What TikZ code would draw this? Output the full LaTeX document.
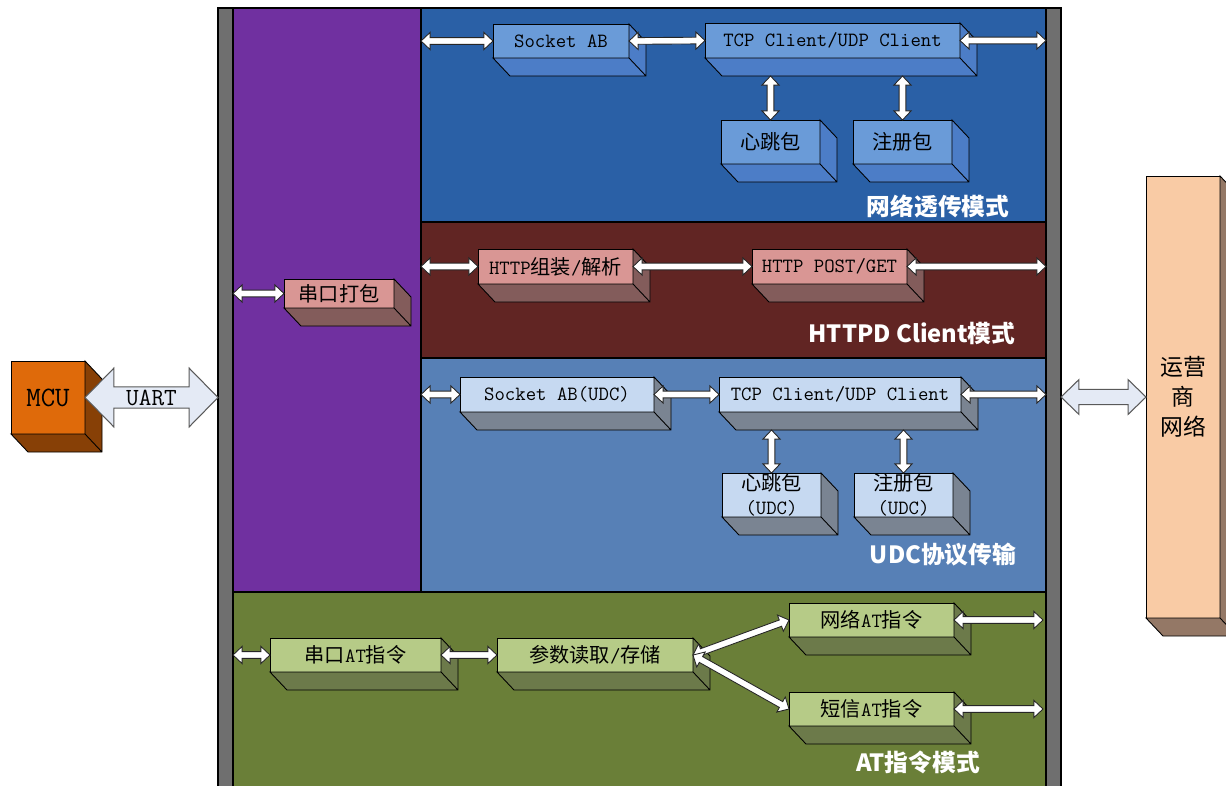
\documentclass[tikz,border=0pt]{standalone}
\usepackage{fontspec}
\usepackage{tikz}
\usetikzlibrary{calc}
\newfontfamily\cjk{Noto Sans CJK SC}

\definecolor{bargray}{HTML}{6F6F6F}
\definecolor{colpurple}{HTML}{7030A0}
\definecolor{netblue}{HTML}{2A60A6}
\definecolor{httpred}{HTML}{612523}
\definecolor{udcblue}{HTML}{5780B6}
\definecolor{atgreen}{HTML}{6A7F38}
\definecolor{tbfront}{HTML}{6A9BD8}
\definecolor{tbside}{HTML}{4C7DC7}
\definecolor{rfront}{HTML}{D99694}
\definecolor{rside}{HTML}{835C5B}
\definecolor{ufront}{HTML}{C6D9F1}
\definecolor{uside}{HTML}{7A8492}
\definecolor{gfront}{HTML}{B6CB87}
\definecolor{gside}{HTML}{6C7A4A}
\definecolor{mcufront}{HTML}{DF6A0A}
\definecolor{mcuside}{HTML}{874006}
\definecolor{opfront}{HTML}{F9CBA5}
\definecolor{opside}{HTML}{947866}
\definecolor{uartfill}{HTML}{E4EAF5}

\tikzset{
 region/.style={draw=black, line width=0.6pt, inner sep=0pt, outer sep=0pt, anchor=north west},
 boxwh/.style 2 args={minimum width=#1*0.02cm, minimum height=#2*0.02cm},
 box/.style={draw=black, line width=0.5pt, inner sep=0pt, outer sep=0pt, align=center,
   font=\ttfamily\fontsize{11.5}{13.6}\selectfont},
 tbox/.style={box, fill=tbfront},
 rbox/.style={box, fill=rfront},
 ubox/.style={box, fill=ufront},
 gbox/.style={box, fill=gfront},
 dblarrow/.style n args={3}{to path={
   (\tikztostart)
   -- ($($(\tikztostart)!#3!(\tikztotarget)$)!#1!90:(\tikztotarget)$)
   -- ($($(\tikztostart)!#3!(\tikztotarget)$)!#2!90:(\tikztotarget)$)
   -- ($($(\tikztotarget)!#3!(\tikztostart)$)!#2!-90:(\tikztostart)$)
   -- ($($(\tikztotarget)!#3!(\tikztostart)$)!#1!-90:(\tikztostart)$)
   -- (\tikztotarget)
   -- ($($(\tikztotarget)!#3!(\tikztostart)$)!#1!90:(\tikztostart)$)
   -- ($($(\tikztotarget)!#3!(\tikztostart)$)!#2!90:(\tikztostart)$)
   -- ($($(\tikztostart)!#3!(\tikztotarget)$)!#2!-90:(\tikztotarget)$)
   -- ($($(\tikztostart)!#3!(\tikztotarget)$)!#1!-90:(\tikztotarget)$)
   -- cycle}},
 wharrow/.style={draw=black!85, fill=white, line width=0.5pt, line join=miter, dblarrow={4.9pt}{1.9pt}{5.2pt}},
 bigarrow/.style={draw=black!65, fill=uartfill, line width=0.6pt, line join=miter},
 ttl/.style={text=white, font=\cjk\bfseries\fontsize{13.5}{16}\selectfont},
}

\begin{document}
\begin{tikzpicture}[x=0.02cm, y=-0.02cm]
  \useasboundingbox (0,0) rectangle (1226,785);

  % frame and modes
  \node[region, fill=bargray, boxwh={15}{790}] (lbar) at (218,8) {};
  \node[region, fill=bargray, boxwh={15}{790}] (rbar) at (1046,8) {};
  \node[region, fill=colpurple, boxwh={188}{584}] (col) at (233,8) {};
  \node[region, fill=netblue, boxwh={625}{214}] (net) at (421,8) {};
  \node[region, fill=httpred, boxwh={625}{136}] (http) at (421,222) {};
  \node[region, fill=udcblue, boxwh={625}{234}] (udc) at (421,358) {};
  \node[region, fill=atgreen, boxwh={813}{198}] (atm) at (233,592) {};

  % network transparent mode
  \node[tbox, boxwh={136}{34}] (sab) at (561,41) {Socket AB};
  \node[tbox, boxwh={255}{35}] (tcp) at (832.5,40.5) {TCP Client/UDP Client};
  \node[tbox, boxwh={99}{44}] (hb) at (770.5,142) {{\cjk 心跳包}};
  \node[tbox, boxwh={99}{44}] (reg) at (902.5,142) {{\cjk 注册包}};

  % httpd client
  \node[rbox, boxwh={110}{29}] (pack) at (339,293.5) {{\cjk 串口打包}};
  \node[rbox, boxwh={155}{35}] (hasm) at (555.5,266.5) {HTTP{\cjk 组装}/{\cjk 解析}};
  \node[rbox, boxwh={155}{35}] (hpost) at (829.5,266.5) {HTTP POST/GET};

  % udc
  \node[ubox, boxwh={194}{35}] (usab) at (557,394.5) {Socket AB(UDC)};
  \node[ubox, boxwh={242}{35}] (utcp) at (840,394.5) {TCP Client/UDP Client};
  \node[ubox, boxwh={99}{44}] (uhb) at (771.5,495) {{\cjk 心跳包}\\(UDC)};
  \node[ubox, boxwh={99}{44}] (ureg) at (903.5,495) {{\cjk 注册包}\\(UDC)};

  % at commands
  \node[gbox, boxwh={171}{34}] (sat) at (355.5,655) {{\cjk 串口}AT{\cjk 指令}};
  \node[gbox, boxwh={196}{34}] (par) at (595,655) {{\cjk 参数读取}/{\cjk 存储}};
  \node[gbox, boxwh={165}{34}] (nat) at (871.5,620) {{\cjk 网络}AT{\cjk 指令}};
  \node[gbox, boxwh={165}{34}] (sms) at (871.5,709) {{\cjk 短信}AT{\cjk 指令}};

  % outside
  \node[box, fill=mcufront, boxwh={74}{73}, font=\ttfamily\fontsize{16}{18}\selectfont] (mcu) at (48,397.5) {MCU};
  \node[box, fill=opfront, boxwh={74}{442}, font=\cjk\fontsize{13}{17}\selectfont] (op) at (1183,397) {运营\\商\\网络};

  % depth of the boxes
  \foreach \n/\c in {sab/tbside, tcp/tbside, hb/tbside, reg/tbside,
                     pack/rside, hasm/rside, hpost/rside,
                     usab/uside, utcp/uside, uhb/uside, ureg/uside,
                     sat/gside, par/gside, nat/gside, sms/gside,
                     mcu/mcuside, op/opside} {
    \draw[line width=0.5pt, fill=\c] (\n.north east) -- ++(17,18) -- ($(\n.south east)+(17,18)$)
      -- ($(\n.south west)+(17,18)$) -- (\n.south west) -- (\n.south east) -- cycle
      (\n.south east) -- ++(17,18);
  }

  \coordinate (tcpb) at ($(tcp.south)+(0,18)$);
  \coordinate (utcpb) at ($(utcp.south)+(0,18)$);

  % arrows
  \draw[wharrow] (net.west |- sab.west) to (sab.west);
  \draw[wharrow] (sab.east) to (tcp.west);
  \draw[wharrow] (tcp.east) to (net.east |- tcp.east);
  \draw[wharrow] (hb.north |- tcpb) to (hb.north);
  \draw[wharrow] (reg.north |- tcpb) to (reg.north);

  \draw[wharrow] (col.west |- pack.west) to (pack.west);
  \draw[wharrow] (http.west |- hasm.west) to (hasm.west);
  \draw[wharrow] (hasm.east) to (hpost.west);
  \draw[wharrow] (hpost.east) to (http.east |- hpost.east);

  \draw[wharrow] (udc.west |- usab.west) to (usab.west);
  \draw[wharrow] (usab.east) to (utcp.west);
  \draw[wharrow] (utcp.east) to (udc.east |- utcp.east);
  \draw[wharrow] (uhb.north |- utcpb) to (uhb.north);
  \draw[wharrow] (ureg.north |- utcpb) to (ureg.north);

  \draw[wharrow] (atm.west |- sat.west) to (sat.west);
  \draw[wharrow] (sat.east) to (par.west);
  \draw[wharrow] (par.east) to (nat.west);
  \draw[wharrow] (par.east) to (sms.west);
  \draw[wharrow] (nat.east) to ($(atm.east |- nat.east)+(-3,0)$);
  \draw[wharrow] (sms.east) to ($(atm.east |- sms.east)+(-3,0)$);

  \draw[bigarrow, dblarrow={16.7pt}{6pt}{16.4pt}] (mcu.east) to (lbar.west |- mcu.east);
  \node[font=\ttfamily\fontsize{14}{16}\selectfont] (uart) at ($(mcu.east)!.5!(lbar.west |- mcu.east)$) {UART};
  \draw[bigarrow, dblarrow={9.9pt}{4.3pt}{10.2pt}] (rbar.east |- op.west) to (op.west);

  % mode titles
  \node[ttl] (t1) at (938,207) {网络透传模式};
  \node[ttl] (t2) at (912,333) {HTTPD Client模式};
  \node[ttl] (t3) at (943,555) {UDC协议传输};
  \node[ttl] (t4) at (918,762) {AT指令模式};
\end{tikzpicture}
\end{document}
